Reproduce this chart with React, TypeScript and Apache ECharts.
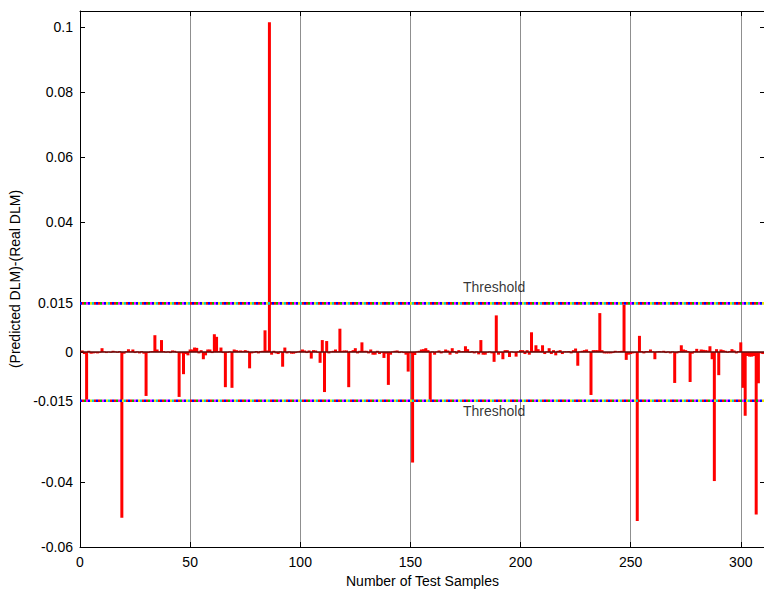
import { useEffect, useRef } from "react";
import * as echarts from "echarts";

// Sample values for samples 1..311 (Predicted DLM - Real DLM)
const errorValues: number[] = [
  0.0005, -0.0006, -0.0147, 0.0004, -0.0005, -0.0004, -0.0003, -0.0004, -0.0002, 0.0012,
  0.0002, -0.0003, 0.0001, -0.0002, 0.0004, 0.0002, -0.0002, 0.0003, -0.051, -0.0005,
  0.0003, 0.0009, 0.0002, 0.0008, -0.0003, 0.0002, -0.0004, 0.0003, -0.0005, -0.0135,
  -0.0003, 0.0002, 0.0003, 0.0052, 0.0008, 0.0002, 0.0037, 0.0003, -0.0002, 0.0002,
  -0.0003, 0.0005, 0.0004, -0.0002, -0.0138, -0.0004, -0.0068, -0.0006, -0.001, 0.0008,
  0.0008, 0.0014, 0.0013, -0.0004, 0.0006, -0.0022, -0.001, 0.0008, 0.0008, -0.0003,
  0.0055, 0.0047, 0.0003, 0.0014, -0.0003, -0.0108, -0.0002, 0.0002, -0.011, 0.0008,
  0.0006, 0.0004, 0.0005, 0.0003, 0.0006, 0.0004, -0.005, -0.0004, -0.0002, 0.0003,
  -0.0004, 0.0003, 0.0004, 0.0067, 0.0005, 0.1015, -0.0008, 0.0004, -0.0004, -0.0006,
  0.0002, -0.0045, 0.0014, -0.0004, 0.0002, -0.0005, -0.0005, -0.0003, 0.0002, 0.0004,
  0.0008, 0.0005, -0.0003, 0.0005, -0.002, 0.0006, 0.0005, -0.0002, -0.0033, 0.0037,
  -0.0123, 0.0034, -0.0004, 0.0002, 0.0004, 0.0008, 0.0002, 0.0072, 0.0004, 0.0005,
  0.0005, -0.0108, 0.0003, 0.0006, 0.0012, -0.0004, 0.0004, 0.003, 0.0004, 0.0004,
  -0.0004, 0.0008, -0.0008, -0.0008, 0.0004, -0.0006, -0.0002, -0.0018, -0.0005, -0.0101,
  -0.0008, 0.0002, 0.0004, 0.0005, -0.0003, 0.0002, -0.0003, -0.0008, -0.006, -0.0004,
  -0.034, -0.0009, 0.0002, 0.0004, 0.0008, 0.0009, 0.0012, 0.0006, -0.0147, 0.0002,
  -0.0008, 0.0002, 0.0005, -0.0004, 0.0002, 0.0008, 0.0005, -0.0008, 0.0012, 0.0003,
  -0.0005, 0.0006, 0.0002, 0.0003, 0.0018, 0.0009, -0.0002, 0.0003, -0.0004, 0.0002,
  -0.0007, 0.0037, -0.0008, -0.0008, -0.0002, 0.0002, -0.0004, -0.003, 0.0113, -0.0008,
  -0.0002, -0.0022, 0.0006, 0.0006, -0.0015, 0.0002, -0.0002, -0.0014, 0.0002, 0.0006,
  0.0006, -0.0006, 0.0006, -0.0008, 0.0061, 0.0004, 0.0021, 0.0009, 0.0004, 0.0021,
  -0.0006, 0.0002, 0.0012, -0.0006, 0.0006, -0.001, 0.0004, 0.0006, -0.0006, 0.0002,
  0.0002, 0.0003, -0.0004, 0.0006, 0.0011, -0.0042, 0.0002, 0.0004, 0.0006, 0.0008,
  0.0002, -0.0132, 0.0006, 0.0006, 0.0006, 0.012, 0.0006, -0.0004, -0.0004, -0.0004,
  -0.0004, -0.0003, 0.0004, 0.0002, 0.0003, 0.0004, 0.0145, -0.0024, -0.0008, -0.0006,
  -0.0004, -0.0003, -0.052, 0.005, 0.0003, -0.0004, 0.0003, 0.0003, 0.0008, 0.0002,
  -0.0022, 0.0002, 0.0003, 0.0002, 0.0004, -0.0003, 0.0002, -0.0004, 0.0002, -0.0095,
  -0.0004, 0.0003, 0.0021, 0.0008, 0.0006, 0.0003, -0.0092, -0.0005, 0.0003, 0.001,
  0.0002, 0.0008, 0.0007, 0.0006, 0.0005, 0.0018, -0.0022, -0.0397, 0.0009, -0.0071,
  0.0008, 0.0006, 0.0004, -0.0002, 0.0003, 0.0009, 0.0005, -0.0004, 0.0003, 0.003,
  -0.011, -0.0196, -0.0012, -0.0014, -0.0014, -0.0012, -0.05, -0.0096, -0.0004, -0.0006,
  -0.0002,
];

const xTickValues = [0, 50, 100, 150, 200, 250, 300];
const yTickValues = [-0.06, -0.04, -0.015, 0, 0.015, 0.04, 0.06, 0.08, 0.1];
const thresholdLevels = [0.015, -0.015];
const thresholdText = "Threshold";
const thresholdColors = ["#0000ff", "#ff0000", "#00b000", "#ff00ff", "#0000ff", "#e6e600", "#00cccc", "#ff0000"];

const X_MIN = 0;
const X_MAX = 311;
const Y_MIN = -0.06;
const Y_MAX = 0.105;
const FONT = "'Liberation Sans', Arial, sans-serif";

export default function App() {
  const ref = useRef<HTMLDivElement>(null);

  useEffect(() => {
    if (!ref.current) return;
    const chart = echarts.init(ref.current, null, { renderer: "svg" });

    const barData = errorValues.map((v, i) => [i + 1, v]);
    const n = thresholdColors.length;

    const thresholdSeries: any[] = [];
    thresholdLevels.forEach((lvl) => {
      thresholdColors.forEach((c, k) => {
        thresholdSeries.push({
          type: "line",
          data: [
            [X_MIN, lvl],
            [X_MAX, lvl],
          ],
          symbol: "none",
          silent: true,
          z: 5,
          lineStyle: {
            color: c,
            width: 2.6,
            type: [2, 2 * (n - 1)],
            dashOffset: -2 * k,
            cap: "butt",
          },
        });
      });
    });

    const option: any = {
      animation: false,
      backgroundColor: "#ffffff",
      grid: { left: 80, top: 11, width: 685, height: 536, outerBoundsMode: "none", containLabel: false },
      xAxis: [
        {
          type: "value",
          min: X_MIN,
          max: X_MAX,
          interval: 50,
          name: "Number of Test Samples",
          nameLocation: "middle",
          nameGap: 22,
          nameTextStyle: { color: "#000", fontSize: 14, fontFamily: FONT },
          axisLine: { show: true, onZero: false, lineStyle: { color: "#000", width: 1 } },
          axisTick: { show: true, inside: true, length: 5, lineStyle: { color: "#000" } },
          axisLabel: {
            color: "#000",
            fontSize: 14,
            fontFamily: FONT,
            margin: 8,
            customValues: xTickValues,
          },
          splitLine: { show: true, lineStyle: { color: "#8f8f8f", width: 1 } },
        },
        {
          type: "value",
          position: "top",
          min: X_MIN,
          max: X_MAX,
          interval: 50,
          axisLine: { show: true, onZero: false, lineStyle: { color: "#000", width: 1 } },
          axisTick: { show: true, inside: true, length: 5, lineStyle: { color: "#000" } },
          axisLabel: { show: false },
          splitLine: { show: false },
        },
      ],
      yAxis: [
        {
          type: "value",
          min: Y_MIN,
          max: Y_MAX,
          name: "(Predicted DLM)-(Real DLM)",
          nameLocation: "middle",
          nameGap: 56,
          nameTextStyle: { color: "#000", fontSize: 14, fontFamily: FONT },
          axisLine: { show: true, onZero: false, lineStyle: { color: "#000", width: 1 } },
          axisTick: {
            show: true,
            inside: true,
            length: 5,
            lineStyle: { color: "#000" },
            customValues: yTickValues,
          },
          axisLabel: {
            color: "#000",
            fontSize: 14,
            fontFamily: FONT,
            margin: 7,
            customValues: yTickValues,
          },
          splitLine: { show: false },
        },
        {
          type: "value",
          position: "right",
          min: Y_MIN,
          max: Y_MAX,
          axisLine: { show: true, onZero: false, lineStyle: { color: "#000", width: 1 } },
          axisTick: {
            show: true,
            inside: true,
            length: 5,
            lineStyle: { color: "#000" },
            customValues: yTickValues,
          },
          axisLabel: { show: false },
          splitLine: { show: false },
        },
      ],
      series: [
        {
          type: "bar",
          data: barData,
          barWidth: 3,
          itemStyle: { color: "#ff0000" },
          silent: true,
          z: 2,
        },
        {
          type: "line",
          data: [
            [X_MIN, 0],
            [X_MAX, 0],
          ],
          symbol: "none",
          silent: true,
          z: 3,
          lineStyle: { color: "#5c0a0a", width: 1.5 },
        },
        ...thresholdSeries,
        {
          type: "scatter",
          data: [[188, thresholdLevels[0]]],
          symbolSize: 0,
          silent: true,
          z: 6,
          label: {
            show: true,
            formatter: thresholdText,
            position: "top",
            distance: 9,
            color: "#000",
            fontSize: 14,
            fontFamily: FONT,
          },
        },
        {
          type: "scatter",
          data: [[188, thresholdLevels[1]]],
          symbolSize: 0,
          silent: true,
          z: 6,
          label: {
            show: true,
            formatter: thresholdText,
            position: "bottom",
            distance: 3,
            color: "#000",
            fontSize: 14,
            fontFamily: FONT,
          },
        },
      ],
    };

    chart.setOption(option);
    return () => chart.dispose();
  }, []);

  return (
    <div
      ref={ref}
      style={{ position: "fixed", left: 0, top: 0, width: 764, height: 589, background: "#fff" }}
    />
  );
}
